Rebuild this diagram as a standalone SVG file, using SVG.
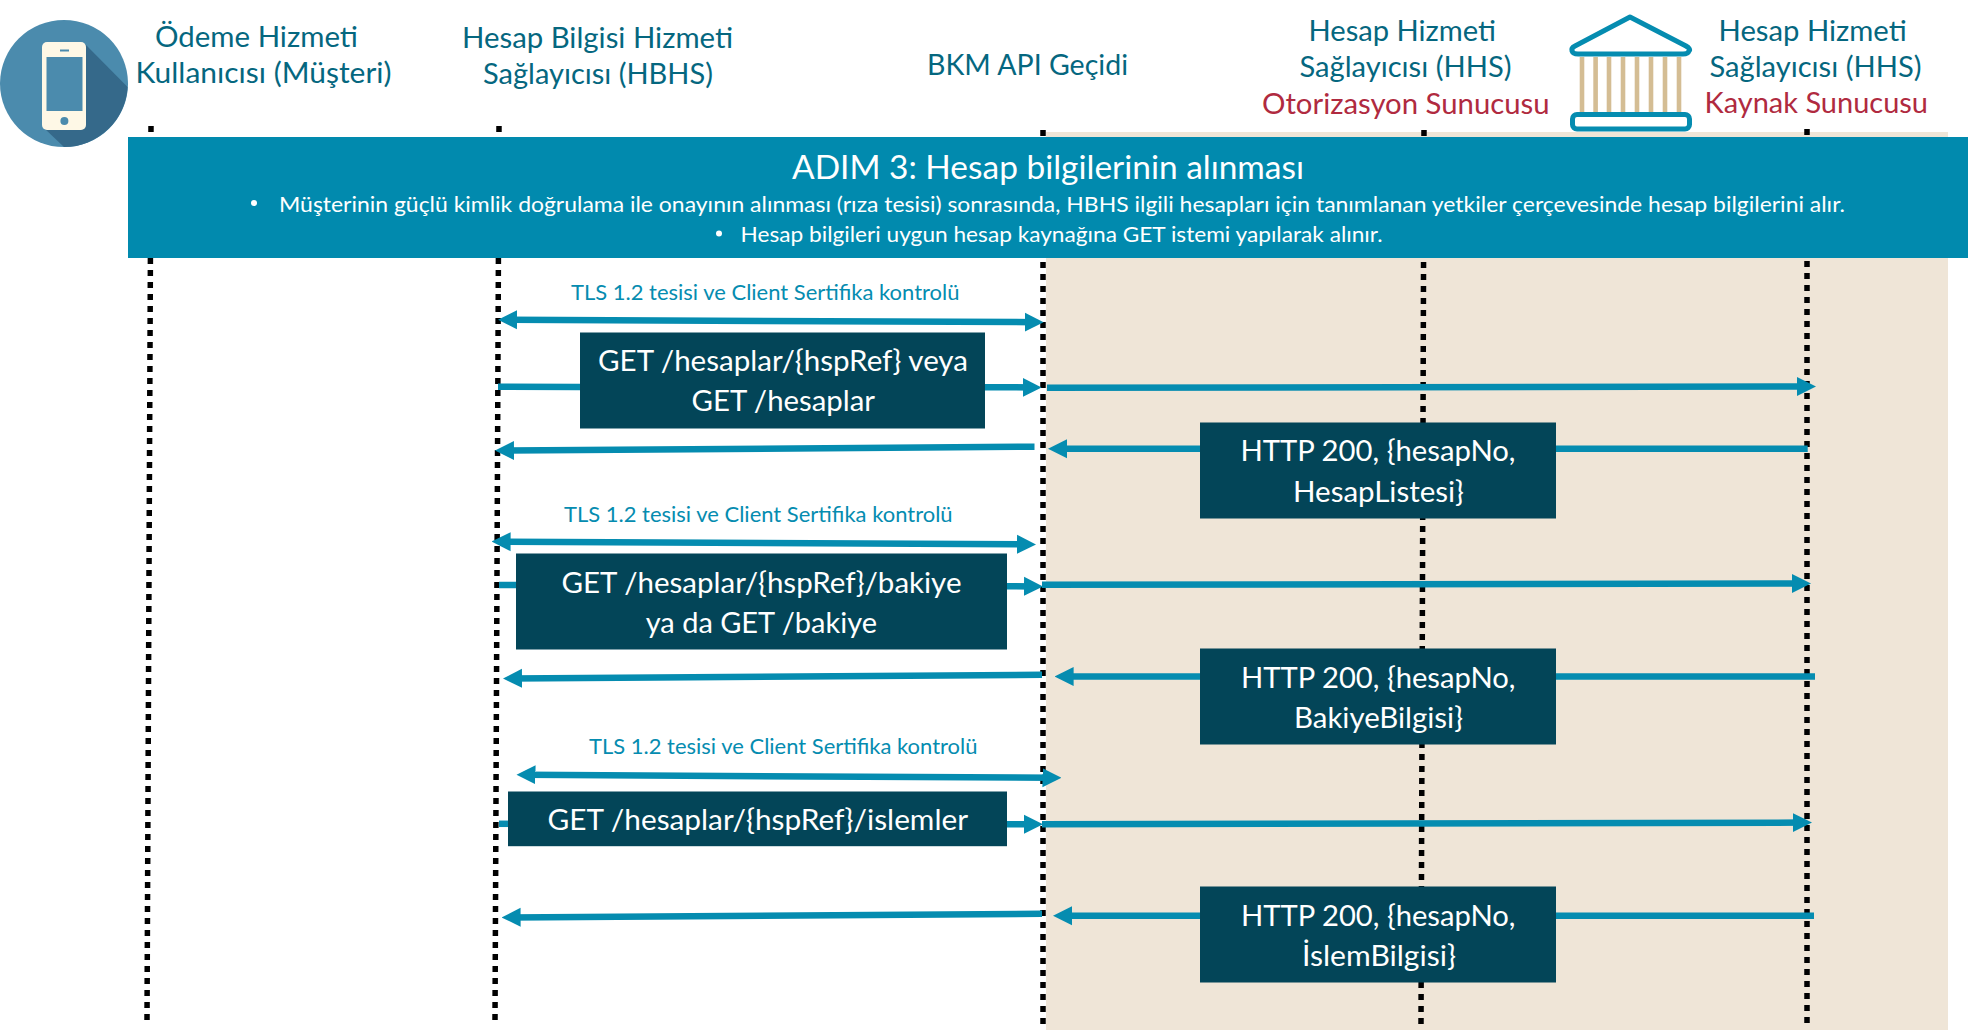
<svg xmlns="http://www.w3.org/2000/svg" width="1968" height="1030" viewBox="0 0 1968 1030">
<style>
text{font-family:"Lato","Liberation Sans",sans-serif}
.h{font-size:29.5px;fill:#05677f}
.r{font-size:29.5px;fill:#b02a40}
.b{font-size:22px;fill:#fff}
.t{font-size:22px;fill:#058cb0}
.m{font-size:29.5px;fill:#fff}
.box{fill:#034558}
.ll{stroke:#000;stroke-width:5.5;stroke-dasharray:6 6;fill:none}
.a{stroke:#058cb0;stroke-width:6.5;fill:none}
.e{marker-end:url(#ah)}
.s{marker-start:url(#ahs)}
</style>
<defs>
<marker id="ah" markerUnits="userSpaceOnUse" markerWidth="19" markerHeight="20" refX="11" refY="10" orient="auto"><path d="M0,0.5 L19,10 L0,19.5 Z" fill="#058cb0"/></marker>
<marker id="ahs" markerUnits="userSpaceOnUse" markerWidth="19" markerHeight="20" refX="11" refY="10" orient="auto-start-reverse"><path d="M0,0.5 L19,10 L0,19.5 Z" fill="#058cb0"/></marker>
</defs>
<rect width="1968" height="1030" fill="#fff"/>
<rect id="hhs-zone" x="1046" y="132" width="902" height="898" fill="#efe5d7"/>
<g id="lifelines">
<line class="ll" x1="151" y1="126" x2="147" y2="1020"/>
<line class="ll" x1="499" y1="126" x2="495" y2="1020"/>
<line class="ll" x1="1043" y1="130" x2="1043" y2="1026"/>
<line class="ll" x1="1424" y1="130" x2="1421" y2="1026"/>
<line class="ll" x1="1807" y1="129" x2="1807" y2="1026"/>
</g>
<g id="connectors">
<line class="a e s" x1="506" y1="319.8" x2="1035.6" y2="322.2"/>
<line class="a" x1="498" y1="386.7" x2="580" y2="386.9"/>
<line class="a e" x1="985" y1="387.2" x2="1033.6" y2="387.4"/>
<line class="a e" x1="1047" y1="387.8" x2="1808" y2="386.5"/>
<line class="a e" x1="1034.5" y1="446.7" x2="503" y2="450.5"/>
<line class="a" x1="1807.7" y1="448.7" x2="1556" y2="448.7"/>
<line class="a e" x1="1200" y1="448.7" x2="1056" y2="448.7"/>
<line class="a e s" x1="499.6" y1="541.6" x2="1028" y2="544.4"/>
<line class="a" x1="499" y1="585" x2="516" y2="585"/>
<line class="a e" x1="1007" y1="586.2" x2="1035" y2="586.4"/>
<line class="a e" x1="1042" y1="584.8" x2="1803" y2="583.5"/>
<line class="a e" x1="1042" y1="674.8" x2="511" y2="678.4"/>
<line class="a" x1="1815" y1="676.5" x2="1556" y2="676.5"/>
<line class="a e" x1="1200" y1="676.5" x2="1062.6" y2="676.5"/>
<line class="a e s" x1="524.5" y1="774.8" x2="1053.5" y2="777.8"/>
<line class="a" x1="499" y1="823.8" x2="508" y2="823.8"/>
<line class="a e" x1="1007" y1="824.2" x2="1035" y2="824.3"/>
<line class="a e" x1="1042" y1="824.3" x2="1804" y2="822.6"/>
<line class="a e" x1="1042" y1="913.8" x2="509.6" y2="917.4"/>
<line class="a" x1="1814" y1="915.8" x2="1556" y2="915.8"/>
<line class="a e" x1="1200" y1="915.8" x2="1061" y2="915.8"/>
</g>
<g id="phone-icon">
<ellipse cx="64" cy="83.5" rx="64" ry="63.5" fill="#4b8bad"/>
<path d="M85,44 L127.6,87 A64,63.5 0 0 1 64,147 L45,129 Z" fill="#35698a"/>
<rect x="42" y="42" width="44" height="88" rx="5" fill="#fef8e6"/>
<rect x="46.5" y="57" width="36" height="54" fill="#4b8bad"/>
<rect x="60" y="49.5" width="9" height="2" fill="#4b8bad"/>
<circle cx="64.4" cy="121" r="4" fill="#4b8bad"/>
</g>
<g id="actor-psu">
<text class="h" x="155" y="46.5" textLength="203" lengthAdjust="spacingAndGlyphs">Ödeme Hizmeti</text>
<text class="h" x="135.5" y="82.5" textLength="256" lengthAdjust="spacingAndGlyphs">Kullanıcısı (Müşteri)</text>
</g>
<g id="actor-hbhs">
<text class="h" x="462" y="48" textLength="271" lengthAdjust="spacingAndGlyphs">Hesap Bilgisi Hizmeti</text>
<text class="h" x="483" y="84" textLength="230" lengthAdjust="spacingAndGlyphs">Sağlayıcısı (HBHS)</text>
</g>
<g id="actor-bkm">
<text class="h" x="927" y="75" textLength="201" lengthAdjust="spacingAndGlyphs">BKM API Geçidi</text>
</g>
<g id="actor-hhs-auth">
<text class="h" x="1308.5" y="41.2" textLength="187.5" lengthAdjust="spacingAndGlyphs">Hesap Hizmeti</text>
<text class="h" x="1299.5" y="77" textLength="212" lengthAdjust="spacingAndGlyphs">Sağlayıcısı (HHS)</text>
<text class="r" x="1262" y="113.5" textLength="287.6" lengthAdjust="spacingAndGlyphs">Otorizasyon Sunucusu</text>
</g>
<g id="bank-icon">
<g fill="#d4bd94">
<rect x="1579.7" y="57" width="4.6" height="57"/><rect x="1593.3" y="57" width="4.6" height="57"/><rect x="1606.7" y="57" width="4.6" height="57"/><rect x="1620.7" y="57" width="4.6" height="57"/><rect x="1634.7" y="57" width="4.6" height="57"/><rect x="1648.7" y="57" width="4.6" height="57"/><rect x="1662.7" y="57" width="4.6" height="57"/><rect x="1676.7" y="57" width="4.6" height="57"/>
</g>
<path d="M1630,17 L1686,46 Q1691,49 1689,51 Q1688,54 1683,54 L1578,54 Q1573,54 1572,51 Q1571,48 1575,46 Z" fill="#fff" stroke="#058cb0" stroke-width="5" stroke-linejoin="round"/>
<rect x="1572.5" y="114.5" width="117" height="14.5" rx="4.5" fill="#fff" stroke="#058cb0" stroke-width="5"/>
</g>
<g id="actor-hhs-res">
<text class="h" x="1718.5" y="40.5" textLength="188.2" lengthAdjust="spacingAndGlyphs">Hesap Hizmeti</text>
<text class="h" x="1709.5" y="76.7" textLength="212" lengthAdjust="spacingAndGlyphs">Sağlayıcısı (HHS)</text>
<text class="r" x="1704.6" y="112.5" textLength="223.4" lengthAdjust="spacingAndGlyphs">Kaynak Sunucusu</text>
</g>
<g id="banner">
<rect x="128" y="137" width="1840" height="121" fill="#018aae"/>
<text x="792" y="179" font-size="32" fill="#fff" textLength="512" lengthAdjust="spacingAndGlyphs">ADIM 3: Hesap bilgilerinin alınması</text>
<circle cx="254" cy="203" r="3" fill="#fff"/>
<text class="b" x="279" y="211.5" textLength="1566" lengthAdjust="spacingAndGlyphs">Müşterinin güçlü kimlik doğrulama ile onayının alınması (rıza tesisi) sonrasında, HBHS ilgili hesapları için tanımlanan yetkiler çerçevesinde hesap bilgilerini alır.</text>
<circle cx="719" cy="233.5" r="3" fill="#fff"/>
<text class="b" x="740.5" y="242" textLength="642" lengthAdjust="spacingAndGlyphs">Hesap bilgileri uygun hesap kaynağına GET istemi yapılarak alınır.</text>
</g>
<g id="label-tls-1"><text class="t" x="571" y="300" textLength="388.5" lengthAdjust="spacingAndGlyphs">TLS 1.2 tesisi ve Client Sertifika kontrolü</text></g>
<g id="label-tls-2"><text class="t" x="564" y="521.7" textLength="388.6" lengthAdjust="spacingAndGlyphs">TLS 1.2 tesisi ve Client Sertifika kontrolü</text></g>
<g id="label-tls-3"><text class="t" x="589" y="754" textLength="388.5" lengthAdjust="spacingAndGlyphs">TLS 1.2 tesisi ve Client Sertifika kontrolü</text></g>
<g id="msg-get-hesaplar">
<rect class="box" x="580" y="332.5" width="405" height="96"/>
<text class="m" x="598" y="370.5" textLength="370" lengthAdjust="spacingAndGlyphs">GET /hesaplar/{hspRef} veya</text>
<text class="m" x="691.5" y="410.5" textLength="183.5" lengthAdjust="spacingAndGlyphs">GET /hesaplar</text>
</g>
<g id="msg-http-hesap">
<rect class="box" x="1200" y="422.5" width="356" height="96"/>
<text class="m" x="1240.5" y="461" textLength="275" lengthAdjust="spacingAndGlyphs">HTTP 200, {hesapNo,</text>
<text class="m" x="1293" y="501.5" textLength="171" lengthAdjust="spacingAndGlyphs">HesapListesi}</text>
</g>
<g id="msg-get-bakiye">
<rect class="box" x="516" y="553.5" width="491" height="96"/>
<text class="m" x="561.5" y="592.5" textLength="400" lengthAdjust="spacingAndGlyphs">GET /hesaplar/{hspRef}/bakiye</text>
<text class="m" x="645.7" y="632.5" textLength="231.3" lengthAdjust="spacingAndGlyphs">ya da GET /bakiye</text>
</g>
<g id="msg-http-bakiye">
<rect class="box" x="1200" y="648.5" width="356" height="96"/>
<text class="m" x="1241" y="687.5" textLength="274.5" lengthAdjust="spacingAndGlyphs">HTTP 200, {hesapNo,</text>
<text class="m" x="1294" y="727.5" textLength="169" lengthAdjust="spacingAndGlyphs">BakiyeBilgisi}</text>
</g>
<g id="msg-get-islemler">
<rect class="box" x="508" y="791.5" width="499" height="54.7"/>
<text class="m" x="547.5" y="829.5" textLength="420.5" lengthAdjust="spacingAndGlyphs">GET /hesaplar/{hspRef}/islemler</text>
</g>
<g id="msg-http-islem">
<rect class="box" x="1200" y="886.5" width="356" height="96"/>
<text class="m" x="1241" y="925.5" textLength="274.5" lengthAdjust="spacingAndGlyphs">HTTP 200, {hesapNo,</text>
<text class="m" x="1302" y="965.5" textLength="154" lengthAdjust="spacingAndGlyphs">İslemBilgisi}</text>
</g>
</svg>
